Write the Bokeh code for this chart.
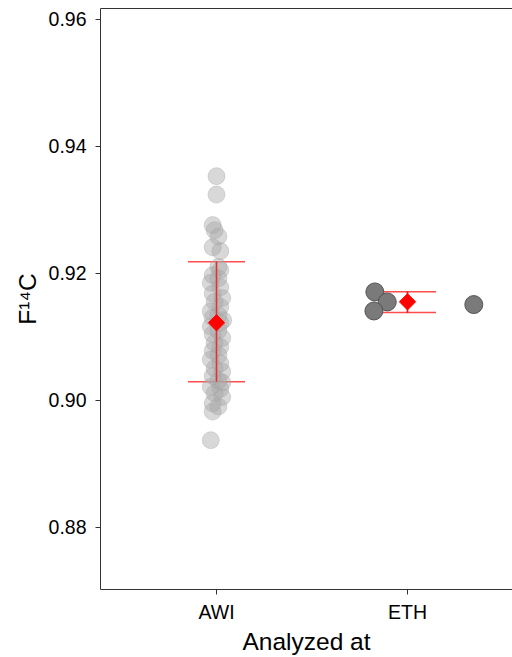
import math
from bokeh.plotting import figure
from bokeh.models import Range1d, FixedTicker, LinearAxis, ColumnDataSource, Whisker
from bokeh.embed import file_html
from bokeh.resources import INLINE

# ---- data ----
groups = ["AWI", "ETH"]
group_pos = [1, 2]

awi_values = [0.8937, 0.8982, 0.8990, 0.8995, 0.9005, 0.9011, 0.9018, 0.9021, 0.9028,
              0.9031, 0.9038, 0.9045, 0.9050, 0.9058, 0.9064, 0.9071, 0.9078, 0.9084,
              0.9090, 0.9098, 0.9104, 0.9110, 0.9116, 0.9122, 0.9126, 0.9130, 0.9134,
              0.9140, 0.9147, 0.9155, 0.9161, 0.9168, 0.9178, 0.9185, 0.9192, 0.9197,
              0.9205, 0.9210, 0.9235, 0.9241, 0.9258, 0.9268, 0.9276, 0.9324, 0.9353]
awi_jitter = [-0.03, -0.02, 0.01, -0.02, 0.03, -0.01, 0.02, -0.03, 0.03,
              0.01, -0.02, 0.03, -0.01, 0.02, -0.03, 0.01, -0.02, 0.02,
              -0.01, 0.03, -0.02, 0.01, -0.03, 0.02, 0.035, -0.02, 0.01,
              -0.03, 0.02, -0.01, 0.03, -0.02, 0.02, -0.03, 0.01, -0.02,
              0.02, 0.01, 0.02, -0.02, 0.01, -0.01, -0.02, 0.00, 0.00]

eth_values = [0.91706, 0.91548, 0.91406, 0.91507]
eth_jitter = [-0.171, -0.106, -0.176, 0.347]

summary_mean = [0.9122, 0.9155]
summary_lower = [0.9029, 0.9138]
summary_upper = [0.9218, 0.9171]

FONT = "Liberation Sans"

p = figure(width=512, height=657, output_backend="svg", toolbar_location=None,
           x_range=Range1d(0.3927, 2.5497), y_range=Range1d(0.87016, 0.96173),
           min_border_left=100, min_border_right=0, min_border_top=8, min_border_bottom=67)
p.outline_line_color = None
p.xgrid.visible = False
p.ygrid.visible = False
p.background_fill_color = "white"
p.border_fill_color = "white"

xax = p.below[0]
yax = p.left[0]

# top border line (axis without ticks/labels)
top = LinearAxis(ticker=FixedTicker(ticks=[]), major_tick_out=0, major_tick_in=0,
                 minor_tick_out=0, minor_tick_in=0, major_label_standoff=0,
                 major_label_text_font_size="0px", axis_line_color="#333333",
                 axis_line_width=1, axis_label=None)
p.add_layout(top, "above")

# AWI points
awi_x = [group_pos[0] + j for j in awi_jitter]
p.scatter(x=awi_x, y=awi_values, size=17, marker="circle",
          fill_color="#a8a8a8", fill_alpha=0.45, line_color="#a0a0a0", line_alpha=0.35)

# ETH points
eth_x = [group_pos[1] + j for j in eth_jitter]
p.scatter(x=eth_x, y=eth_values, size=18, marker="circle",
          fill_color="#7a7a7a", fill_alpha=1.0, line_color="#4a4a4a", line_alpha=0.9)

# summary error bars
src = ColumnDataSource(dict(x=group_pos, mean=summary_mean, lower=summary_lower, upper=summary_upper))
p.segment(x0="x", y0="lower", x1="x", y1="upper", source=src,
          line_color="red", line_alpha=0.7, line_width=1.5)
w = Whisker(base="x", lower="lower", upper="upper", source=src, dimension="height",
            line_color="red", line_alpha=0.7, line_width=1.5)
for h in (w.upper_head, w.lower_head):
    h.size = 57
    h.line_color = "red"
    h.line_alpha = 0.7
    h.line_width = 1.5
p.add_layout(w)

p.scatter(x="x", y="mean", source=src, marker="square", angle=math.pi / 4, size=11.5,
          fill_color="red", line_color="red")

# axes
for ax in (xax, yax):
    ax.axis_line_color = "#333333"
    ax.major_tick_line_color = "#333333"
    ax.major_tick_out = 5
    ax.major_tick_in = 0
    ax.minor_tick_line_color = None
    ax.major_label_text_font = FONT
    ax.major_label_text_color = "black"
    ax.axis_label_text_font = FONT
    ax.axis_label_text_font_style = "normal"
    ax.axis_label_text_color = "black"

yax.ticker = FixedTicker(ticks=[0.88, 0.90, 0.92, 0.94, 0.96])
yax.major_label_overrides = {0.88: "0.88", 0.90: "0.90", 0.92: "0.92", 0.94: "0.94", 0.96: "0.96"}
yax.major_label_text_font_size = "19.5px"
yax.major_label_standoff = 9
yax.axis_label = "F¹⁴C"
yax.axis_label_text_font_size = "24.5px"
yax.axis_label_standoff = 5

xax.ticker = FixedTicker(ticks=group_pos)
xax.major_label_overrides = {gp: g for gp, g in zip(group_pos, groups)}
xax.major_label_text_font_size = "19.5px"
xax.major_label_standoff = 6
xax.axis_label = "Analyzed at"
xax.axis_label_text_font_size = "24.5px"
xax.axis_label_standoff = 2

open("out.html", "w").write(file_html(p, INLINE))
